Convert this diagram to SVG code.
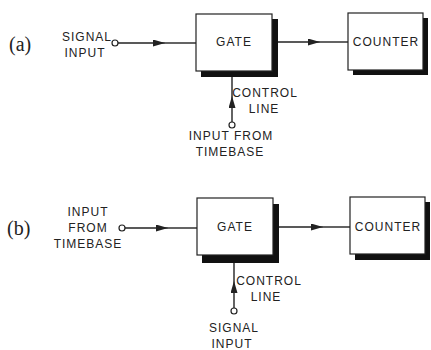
<svg xmlns="http://www.w3.org/2000/svg" width="431" height="350" viewBox="0 0 431 350">
<style>
.box{fill:#fff;stroke:#222;stroke-width:1.2}
.sh{fill:#111}
.t{font-family:"Liberation Sans",Arial,sans-serif;font-size:12px;fill:#222;letter-spacing:1px;text-anchor:middle}
.p{font-family:"Liberation Serif","Times New Roman",serif;font-size:20px;fill:#222}
.ln{stroke:#222;stroke-width:1.4;fill:none}
.term{fill:#fff;stroke:#222;stroke-width:1.2}
</style>
<defs>
<marker id="ah" viewBox="0 0 12 7" refX="12" refY="3.5" markerWidth="12" markerHeight="7" markerUnits="userSpaceOnUse" orient="auto">
<path d="M0,0 L12,3.5 L0,7 Z" fill="#222"/>
</marker>
</defs>
<rect width="431" height="350" fill="#fff"/>
<text class="p" x="9" y="51">(a)</text>
<text class="p" x="7" y="235">(b)</text>
<g id="gate-a">
<rect class="sh" x="201" y="19" width="77" height="58"/>
<rect class="box" x="196" y="14" width="76" height="57"/>
<text class="t" x="234" y="46">GATE</text>
</g>
<g id="counter-a">
<rect class="sh" x="353" y="18" width="75" height="57"/>
<rect class="box" x="348" y="13" width="75" height="57"/>
<text class="t" x="386" y="46">COUNTER</text>
</g>
<g id="gate-b">
<rect class="sh" x="202" y="204" width="77" height="59"/>
<rect class="box" x="197" y="198" width="76" height="57"/>
<text class="t" x="235" y="231">GATE</text>
</g>
<g id="counter-b">
<rect class="sh" x="355" y="202" width="75" height="58"/>
<rect class="box" x="350" y="197" width="75" height="57"/>
<text class="t" x="388" y="231">COUNTER</text>
</g>
<g id="labels">
<text class="t" x="87" y="41">SIGNAL</text>
<text class="t" x="85" y="57">INPUT</text>
<text class="t" x="265" y="97">CONTROL</text>
<text class="t" x="264" y="113">LINE</text>
<text class="t" x="231" y="140">INPUT FROM</text>
<text class="t" x="230" y="156">TIMEBASE</text>
<text class="t" x="88" y="216">INPUT</text>
<text class="t" x="88" y="232">FROM</text>
<text class="t" x="88" y="248">TIMEBASE</text>
<text class="t" x="269" y="285">CONTROL</text>
<text class="t" x="266" y="301">LINE</text>
<text class="t" x="234" y="332">SIGNAL</text>
<text class="t" x="232" y="348">INPUT</text>
</g>
<g id="connectors">
<line class="ln" x1="118" y1="43" x2="165" y2="43" marker-end="url(#ah)"/>
<line class="ln" x1="165" y1="43" x2="196" y2="43"/>
<line class="ln" x1="278" y1="42" x2="320" y2="42" marker-end="url(#ah)"/>
<line class="ln" x1="320" y1="42" x2="348" y2="42"/>
<line class="ln" x1="232" y1="122" x2="232" y2="96" marker-end="url(#ah)"/>
<line class="ln" x1="232" y1="96" x2="232" y2="77"/>
<circle class="term" cx="115" cy="43" r="3"/>
<circle class="term" cx="232" cy="125" r="3"/>
<line class="ln" x1="125" y1="228" x2="168" y2="228" marker-end="url(#ah)"/>
<line class="ln" x1="168" y1="228" x2="197" y2="228"/>
<line class="ln" x1="279" y1="227" x2="323" y2="227" marker-end="url(#ah)"/>
<line class="ln" x1="323" y1="227" x2="350" y2="227"/>
<line class="ln" x1="234" y1="308" x2="234" y2="281" marker-end="url(#ah)"/>
<line class="ln" x1="234" y1="281" x2="234" y2="263"/>
<circle class="term" cx="122" cy="228" r="3"/>
<circle class="term" cx="234" cy="311" r="3"/>
</g>
</svg>
